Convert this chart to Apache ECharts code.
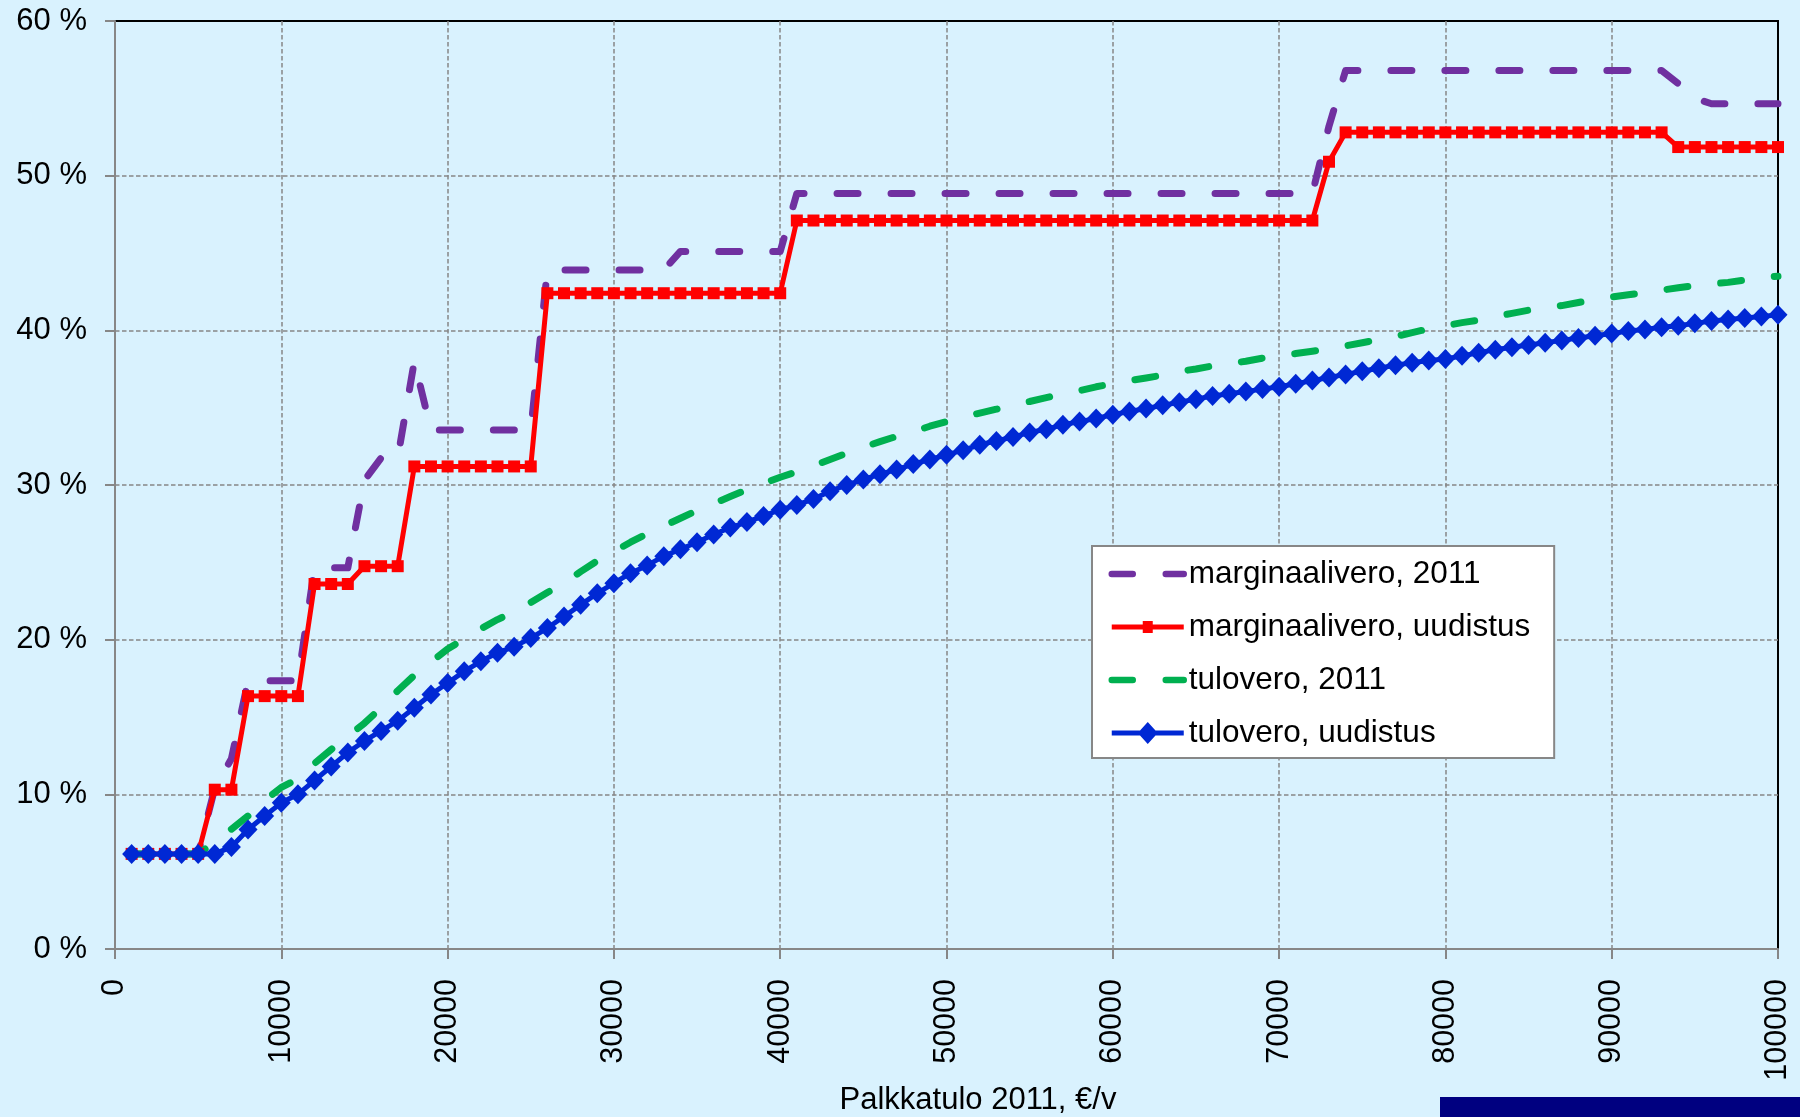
<!DOCTYPE html>
<html>
<head>
<meta charset="utf-8">
<title>Marginaalivero ja tulovero</title>
<script src="https://cdn.jsdelivr.net/npm/echarts@6/dist/echarts.min.js"></script>
<style>
    html,body{margin:0;padding:0;background:#d9f2fe;}
    #chart{width:1800px;height:1117px;}
</style>
</head>
<body>
<div id="chart"></div>
<script>
// palkkatulo, 1000 euron välein
var tulot=[];
for(var i=1;i<=100;i++){ tulot.push(i*1000); }

var sarjaNimet=['marginaalivero, 2011','marginaalivero, uudistus','tulovero, 2011','tulovero, uudistus'];
var yTicks=[0,10,20,30,40,50,60];
var xTicks=[0,10000,20000,30000,40000,50000,60000,70000,80000,90000,100000];

// marginaalivero 2011 (%)
var marg2011=[6.15,6.15,6.15,6.15,6.15,10.4,12.3,17.35,17.35,17.35,
    17.35,24.65,24.65,24.65,30.3,31.75,31.75,38.0,33.55,33.55,
    33.55,33.55,33.55,33.55,33.55,43.9,43.9,43.9,43.9,43.9,
    43.9,43.9,43.9,45.1,45.1,45.1,45.1,45.1,45.1,45.1,
    48.85,48.85,48.85,48.85,48.85,48.85,48.85,48.85,48.85,48.85,
    48.85,48.85,48.85,48.85,48.85,48.85,48.85,48.85,48.85,48.85,
    48.85,48.85,48.85,48.85,48.85,48.85,48.85,48.85,48.85,48.85,
    48.85,48.85,53.2,56.8,56.8,56.8,56.8,56.8,56.8,56.8,
    56.8,56.8,56.8,56.8,56.8,56.8,56.8,56.8,56.8,56.8,
    56.8,56.8,56.8,55.95,55.0,54.65,54.65,54.65,54.65,54.65];

// marginaalivero uudistus (%)
var margUud=[6.15,6.15,6.15,6.15,6.15,10.3,10.3,16.35,16.35,16.35,
    16.35,23.6,23.6,23.6,24.75,24.75,24.75,31.2,31.2,31.2,
    31.2,31.2,31.2,31.2,31.2,42.4,42.4,42.4,42.4,42.4,
    42.4,42.4,42.4,42.4,42.4,42.4,42.4,42.4,42.4,42.4,
    47.1,47.1,47.1,47.1,47.1,47.1,47.1,47.1,47.1,47.1,
    47.1,47.1,47.1,47.1,47.1,47.1,47.1,47.1,47.1,47.1,
    47.1,47.1,47.1,47.1,47.1,47.1,47.1,47.1,47.1,47.1,
    47.1,47.1,50.9,52.8,52.8,52.8,52.8,52.8,52.8,52.8,
    52.8,52.8,52.8,52.8,52.8,52.8,52.8,52.8,52.8,52.8,
    52.8,52.8,52.8,51.85,51.85,51.85,51.85,51.85,51.85,51.85];

// tulovero 2011 (%)
var tulo2011=[6.15,6.15,6.15,6.15,6.15,6.9,7.75,8.6,9.6,10.45,
    11.0,12.0,12.9,13.75,14.6,15.6,16.7,17.7,18.55,19.4,
    20.05,20.7,21.3,21.8,22.4,23.05,23.65,24.4,25.1,25.7,
    26.3,26.85,27.35,27.85,28.35,28.8,29.25,29.7,30.1,30.5,
    30.85,31.25,31.65,32.05,32.45,32.8,33.15,33.45,33.8,34.1,
    34.4,34.65,34.9,35.2,35.4,35.65,35.9,36.1,36.35,36.55,
    36.75,36.92,37.1,37.35,37.5,37.7,37.85,38.0,38.2,38.35,
    38.5,38.65,38.8,39.0,39.2,39.4,39.6,39.85,40.1,40.3,
    40.5,40.65,40.9,41.1,41.3,41.45,41.6,41.8,42.0,42.15,
    42.3,42.45,42.6,42.75,42.9,43.0,43.1,43.25,43.4,43.5];

// tulovero uudistus (%)
var tuloUud=[6.15,6.15,6.15,6.15,6.15,6.15,6.6,7.73,8.6,9.45,
    10.0,10.9,11.8,12.7,13.45,14.1,14.75,15.6,16.45,17.2,
    17.95,18.6,19.15,19.55,20.1,20.75,21.5,22.25,23.0,23.65,
    24.3,24.8,25.4,25.85,26.3,26.8,27.25,27.6,28.0,28.4,
    28.7,29.1,29.6,30.0,30.35,30.7,31.0,31.35,31.65,31.95,
    32.25,32.6,32.85,33.1,33.4,33.6,33.9,34.1,34.3,34.55,
    34.75,34.95,35.15,35.35,35.55,35.75,35.9,36.05,36.2,36.35,
    36.55,36.75,36.95,37.15,37.35,37.55,37.75,37.9,38.05,38.15,
    38.35,38.55,38.75,38.9,39.05,39.2,39.35,39.5,39.65,39.8,
    39.95,40.05,40.2,40.3,40.45,40.6,40.7,40.8,40.9,41.0];

function pari(arvot){
    var d=[];
    for(var i=0;i<tulot.length;i++){ d.push([tulot[i],arvot[i]]); }
    return d;
}

var fontti='"Liberation Sans", Arial, sans-serif';
var harmaa='#878787';

var option={
    backgroundColor:'#d9f2fe',
    animation:false,
    textStyle:{fontFamily:fontti,color:'#000'},
    grid:{
        left:115, top:21, width:1663, height:928,
        outerBoundsMode:'none',
        containLabel:false,
        show:true,
        borderColor:'#000',
        borderWidth:2
    },
    legend:{
        orient:'vertical',
        left:1092, top:546,
        backgroundColor:'#fff',
        borderColor:harmaa,
        borderWidth:2,
        padding:[12,24,9,16.5],
        itemWidth:72,
        itemHeight:22,
        itemGap:21,
        itemStyle:{borderWidth:0},
        lineStyle:{width:6.5},
        textStyle:{fontFamily:fontti,fontSize:31.5,color:'#000'},
        data:[
            {name:sarjaNimet[0],itemStyle:{opacity:0}},
            {name:sarjaNimet[1],icon:'path://M0,3.5h72v5h-72zM31,0h10v12h-10z'},
            {name:sarjaNimet[2],itemStyle:{opacity:0}},
            {name:sarjaNimet[3],icon:'path://M0,8.5h72v5h-72zM36,0l10,11l-10,11l-10,-11z'}
        ]
    },
    xAxis:{
        type:'value',
        min:xTicks[0], max:xTicks[xTicks.length-1], interval:10000,
        name:'Palkkatulo 2011, €/v',
        nameLocation:'middle',
        nameGap:136,
        nameMoveOverlap:false,
        nameTextStyle:{fontFamily:fontti,fontSize:31,color:'#000',padding:[0,0,0,63]},
        axisLine:{lineStyle:{color:harmaa,width:2}},
        axisTick:{length:10,lineStyle:{color:harmaa,width:2}},
        axisLabel:{rotate:90,margin:30,fontSize:30.5,color:'#000',fontFamily:fontti,
            formatter:function(v){ return String(v); }},
        splitLine:{show:true,showMinLine:false,showMaxLine:false,
            lineStyle:{color:harmaa,width:1.5,type:[4.5,2.5]}}
    },
    yAxis:{
        type:'value',
        min:yTicks[0], max:yTicks[yTicks.length-1], interval:10,
        axisLine:{show:true,lineStyle:{color:harmaa,width:2}},
        axisTick:{show:true,length:10,lineStyle:{color:harmaa,width:2}},
        axisLabel:{margin:28,fontSize:31,color:'#000',fontFamily:fontti,
            formatter:function(v){ return v+' %'; }},
        splitLine:{show:true,showMinLine:false,showMaxLine:false,
            lineStyle:{color:harmaa,width:1.5,type:[4.5,2.5]}}
    },
    series:[
        {
            name:sarjaNimet[0], type:'line', data:pari(marg2011),
            symbol:'none', clip:false,
            lineStyle:{color:'#7030a0',width:7,type:[21,33],cap:'round',join:'round'},
            itemStyle:{color:'#7030a0',borderWidth:0}
        },
        {
            name:sarjaNimet[1], type:'line', data:pari(margUud),
            symbol:'rect', symbolSize:[12,12], clip:false,
            lineStyle:{color:'#ff0000',width:5},
            itemStyle:{color:'#ff0000',borderWidth:0}
        },
        {
            name:sarjaNimet[2], type:'line', data:pari(tulo2011),
            symbol:'none', clip:false,
            lineStyle:{color:'#00b050',width:7,type:[21,33],cap:'round',join:'round'},
            itemStyle:{color:'#00b050',borderWidth:0}
        },
        {
            name:sarjaNimet[3], type:'line', data:pari(tuloUud),
            symbol:'diamond', symbolSize:[19,20], clip:false,
            lineStyle:{color:'#0028d4',width:5},
            itemStyle:{color:'#0028d4',borderWidth:0}
        }
    ],
    graphic:[
        {type:'rect',left:1440,top:1097,shape:{width:360,height:20},style:{fill:'#000080'},silent:true}
    ]
};

var myChart=echarts.init(document.getElementById('chart'));
myChart.setOption(option);
</script>
</body>
</html>
